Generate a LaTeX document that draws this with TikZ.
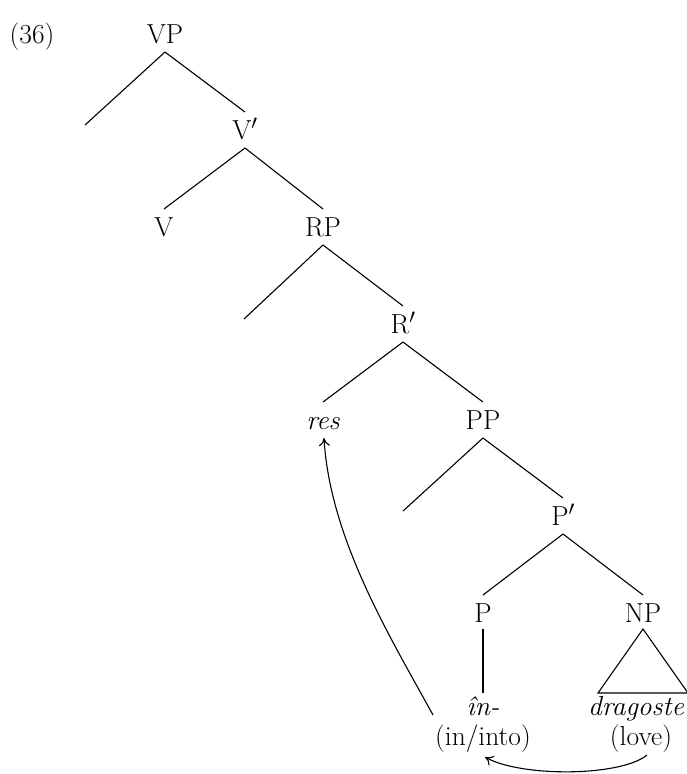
\documentclass[tikz,border=0pt]{standalone}
\usepackage{fontspec}
\usetikzlibrary{calc,arrows.meta}
\tikzset{
  lab/.style={anchor=base, inner sep=0pt, font=\fontsize{27.5}{32}\selectfont},
  edge/.style={line width=1.1pt},
  mv/.style={line width=1.1pt, -{To[length=8pt,width=11pt]}}
}
\newcommand{\brch}[2]{\draw[edge] ($(#1.base)+(0,9)$) -- ($(#2.base)+(0,-27)$);}
\begin{document}
\begin{tikzpicture}[x=1pt, y=-1pt]
\useasboundingbox (0,0) rectangle (686,774);
\node[lab] (ex) at (32,43) {(36)};
\node[lab] (VP) at (165,43) {VP};
\node[lab] (Vbar) at (245,139) {V$'$};
\node[lab] (V) at (164,236) {V};
\node[lab] (RP) at (323,236) {RP};
\node[lab] (Rbar) at (403,333) {R$'$};
\node[lab] (res) at (323,429) {\itshape res};
\node[lab] (PP) at (483,429) {PP};
\node[lab] (Pbar) at (563,525) {P$'$};
\node[lab] (P) at (483,622) {P};
\node[lab] (NP) at (643,622) {NP};
\node[lab] (in) at (483,715) {\itshape în-};
\node[lab] (ingl) at (483,745) {(in/into)};
\node[lab] (drag) at (636,715) {\itshape dragoste};
\node[lab] (love) at (641,745) {(love)};
\coordinate (e1) at (85,125);
\coordinate (e2) at (244,319);
\coordinate (e3) at (403,511);
\brch{VP}{Vbar}
\draw[edge] ($(VP.base)+(0,9)$) -- (e1);
\brch{Vbar}{V}
\brch{Vbar}{RP}
\draw[edge] ($(RP.base)+(0,9)$) -- (e2);
\brch{RP}{Rbar}
\brch{Rbar}{res}
\brch{Rbar}{PP}
\draw[edge] ($(PP.base)+(0,9)$) -- (e3);
\brch{PP}{Pbar}
\brch{Pbar}{P}
\brch{Pbar}{NP}
\draw[edge] ($(P.base)+(0,7)$) -- ($(in.base)+(0,-22)$);
\coordinate (tl) at (598,693);
\coordinate (tr) at (688,693);
\draw[edge] ($(NP.base)+(0,7)$) -- (tl) -- (tr) -- cycle;
\coordinate (s1) at (433,715);
\coordinate (t1) at (324,438);
\draw[mv] (s1) .. controls (392,640) and (330,540) .. (t1);
\coordinate (s2) at (647,755);
\coordinate (t2) at (485,757);
\draw[mv] (s2) .. controls (620,777) and (520,777) .. (t2);
\end{tikzpicture}
\end{document}
